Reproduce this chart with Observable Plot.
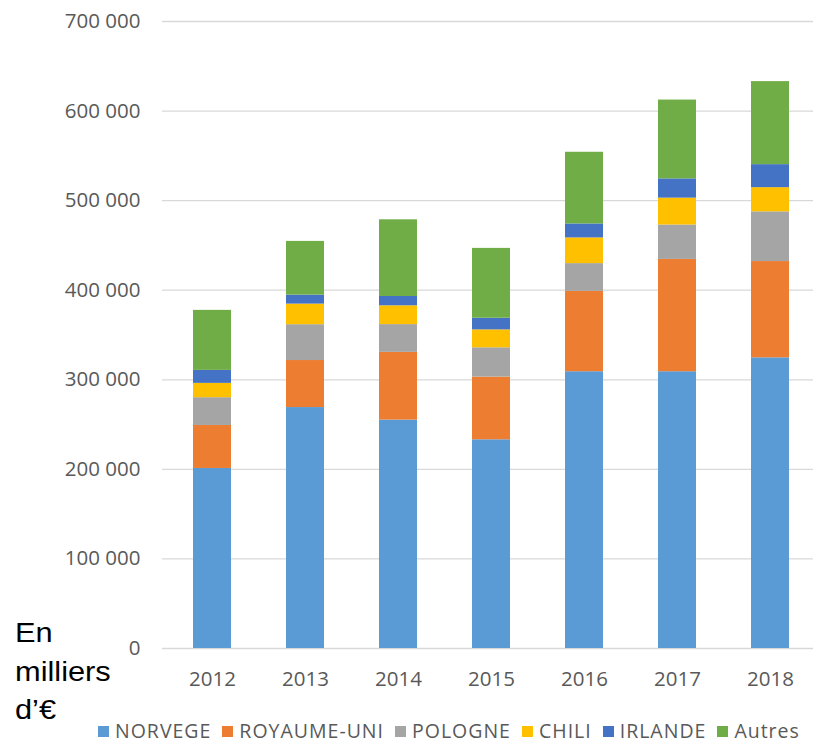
<!DOCTYPE html>
<html>
<head>
<meta charset="utf-8">
<script src="https://cdn.jsdelivr.net/npm/d3@7"></script>
<script src="https://cdn.jsdelivr.net/npm/@observablehq/plot@0.6"></script>
<style>
  body { margin: 0; background: #fff; }
  #wrap { position: relative; width: 813px; height: 743px; overflow: hidden; }
  #unit { position: absolute; left: 15px; top: 614px; font-family: "Liberation Sans", Arial, sans-serif;
          font-size: 27px; line-height: 38.5px; color: #000; transform: scaleX(1.14); transform-origin: left top; }
  #legend { position: absolute; left: 98px; top: 721px; display: flex; align-items: center;
            font-family: "Open Sans", sans-serif; font-size: 19.5px; letter-spacing: 1px; line-height: 20px; color: #595959; }
  .item { display: flex; align-items: center; margin-right: 11px; }
  .sw { width: 11px; height: 11px; margin-right: 6px; }
</style>
</head>
<body>
<div id="wrap">
  <div id="chart"></div>
  <div id="unit">En<br>milliers<br>d’€</div>
  <div id="legend"></div>
</div>
<script>
const years = ["2012", "2013", "2014", "2015", "2016", "2017", "2018"];
const series = ["NORVEGE", "ROYAUME-UNI", "POLOGNE", "CHILI", "IRLANDE", "Autres"];
const colors = ["#5B9BD5", "#ED7D31", "#A5A5A5", "#FFC000", "#4472C4", "#70AD47"];
const norvege    = [201000, 269000, 255000, 233000, 309000, 309000, 324500];
const royaumeUni = [ 48000,  52500,  75600,  70000,  89700, 125400, 107500];
const pologne    = [ 31000,  40000,  31000,  32700,  31000,  38400,  55500];
const chili      = [ 16000,  23000,  21000,  20000,  28700,  30000,  27000];
const irlande    = [ 14500,  10000,  10400,  13000,  15600,  21500,  25700];
const autres     = [ 67000,  60000,  85600,  78000,  80000,  88000,  92700];
const yTicks = [0, 100000, 200000, 300000, 400000, 500000, 600000, 700000];

const valuesBySeries = [norvege, royaumeUni, pologne, chili, irlande, autres];
const rows = [];
years.forEach((yr, i) => {
  series.forEach((s, j) => rows.push({year: yr, series: s, value: valuesBySeries[j][i]}));
});

const fmt = d3.formatLocale({decimal: ",", thousands: " ", grouping: [3], currency: ["", "€"]}).format(",d");

const chart = Plot.plot({
  width: 813,
  height: 705,
  marginTop: 21,
  marginBottom: 57,
  marginLeft: 162,
  marginRight: 0,
  style: {fontFamily: "'Open Sans', sans-serif", fontSize: "20.5px", color: "#595959", background: "#fff"},
  x: {type: "band", domain: years, range: [162.6, 818.9], paddingInner: 0.595, paddingOuter: 0.2975, label: null},
  y: {domain: [0, 700000], label: null},
  color: {domain: series, range: colors},
  marks: [
    Plot.ruleY(yTicks, {stroke: "#d9d9d9", strokeWidth: 1.3}),
    Plot.barY(rows, {x: "year", y: "value", fill: "series"}),
    Plot.axisY(yTicks, {tickSize: 0, tickPadding: 22, tickFormat: fmt, label: null}),
    Plot.axisX({tickSize: 0, tickPadding: 23, label: null})
  ]
});
document.getElementById("chart").appendChild(chart);

const legend = document.getElementById("legend");
series.forEach((s, j) => {
  const it = document.createElement("div");
  it.className = "item";
  const sw = document.createElement("div");
  sw.className = "sw";
  sw.style.background = colors[j];
  const t = document.createElement("span");
  t.textContent = s;
  it.appendChild(sw);
  it.appendChild(t);
  legend.appendChild(it);
});
</script>
</body>
</html>
